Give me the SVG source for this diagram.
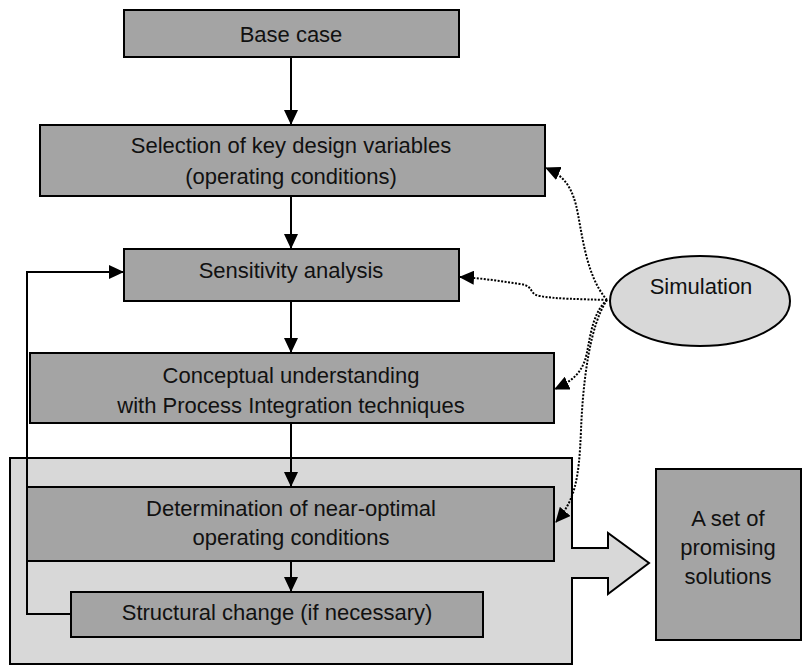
<svg xmlns="http://www.w3.org/2000/svg" width="802" height="669" viewBox="0 0 802 669">
<defs>
<marker id="ah" markerWidth="15" markerHeight="14" refX="14" refY="7" orient="auto" markerUnits="userSpaceOnUse">
<path d="M0,0 L15,7 L0,14 Z" fill="#000"/>
</marker>
<style>
.box{fill:#a4a4a4;stroke:#000;stroke-width:2}
.light{fill:#d8d8d8;stroke:#000;stroke-width:2}
.t{font-family:"Liberation Sans",Arial,sans-serif;font-size:22px;fill:#111;text-anchor:middle}
.ln{fill:none;stroke:#000;stroke-width:2}
.dot{fill:none;stroke:#000;stroke-width:2;stroke-dasharray:2 1.5}
</style>
</defs>
<rect width="802" height="669" fill="#fff"/>
<g id="container">
<path class="light" d="M10,458 H572 V548 H608 V533 L649,563 L608,594 V578 H572 V664 H10 Z"/>
</g>
<g id="base-case">
<rect class="box" x="124" y="10" width="335" height="47"/>
<text class="t" x="291" y="42">Base case</text>
</g>
<g id="selection">
<rect class="box" x="40" y="125" width="505" height="71"/>
<text class="t" x="291" y="153">Selection of key design variables</text>
<text class="t" x="291" y="184">(operating conditions)</text>
</g>
<g id="sensitivity">
<rect class="box" x="124" y="249" width="335" height="52"/>
<text class="t" x="291" y="278">Sensitivity analysis</text>
</g>
<g id="conceptual">
<rect class="box" x="30" y="353" width="524" height="70"/>
<text class="t" x="291" y="383">Conceptual understanding</text>
<text class="t" x="291" y="413">with Process Integration techniques</text>
</g>
<g id="determination">
<rect class="box" x="27" y="487" width="527" height="74"/>
<text class="t" x="291" y="516">Determination of near-optimal</text>
<text class="t" x="291" y="545">operating conditions</text>
</g>
<g id="structural">
<rect class="box" x="71" y="592" width="412" height="45"/>
<text class="t" x="277" y="620">Structural change (if necessary)</text>
</g>
<g id="simulation">
<ellipse class="light" cx="700" cy="301" rx="90" ry="45"/>
<text class="t" x="701" y="294">Simulation</text>
</g>
<g id="promising">
<rect class="box" x="656" y="469" width="145" height="171"/>
<text class="t" x="728" y="526">A set of</text>
<text class="t" x="728" y="555">promising</text>
<text class="t" x="728" y="584">solutions</text>
</g>
<g id="connectors">
<line class="ln" x1="291" y1="57" x2="291" y2="124" marker-end="url(#ah)"/>
<line class="ln" x1="291" y1="196" x2="291" y2="248" marker-end="url(#ah)"/>
<line class="ln" x1="291" y1="301" x2="291" y2="352" marker-end="url(#ah)"/>
<line class="ln" x1="291" y1="423" x2="291" y2="486" marker-end="url(#ah)"/>
<line class="ln" x1="291" y1="561" x2="291" y2="591" marker-end="url(#ah)"/>
<path class="ln" d="M71,614 H27 V272 H123" marker-end="url(#ah)"/>
<path class="dot" d="M607,300 C585,275 582,230 576,205 C570,182 560,174 546,168" marker-end="url(#ah)"/>
<path class="dot" d="M607,300 C580,299 555,299 540,296 C528,294 535,286 520,284 C500,281 480,278 460,277" marker-end="url(#ah)"/>
<path class="dot" d="M607,300 C590,315 590,345 585,360 C580,375 570,382 555,389" marker-end="url(#ah)"/>
<path class="dot" d="M607,300 C590,325 583,380 581,430 C579,480 575,500 556,522" marker-end="url(#ah)"/>
</g>
</svg>
